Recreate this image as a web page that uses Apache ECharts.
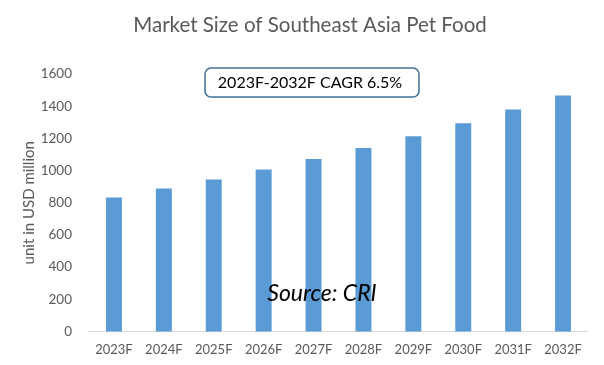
<!DOCTYPE html>
<html><head><meta charset="utf-8">
<script src="https://cdn.jsdelivr.net/npm/echarts@6/dist/echarts.min.js"></script>
<style>html,body{margin:0;padding:0;background:#fff}#c{width:604px;height:365px}</style>
</head><body><div id="c"></div>
<script>
const categories = ['2023F','2024F','2025F','2026F','2027F','2028F','2029F','2030F','2031F','2032F'];
const marketSize = [832, 888, 945, 1006, 1072, 1140, 1213, 1294, 1380, 1467];
const yTicks = {min: 0, max: 1600, interval: 200};
const titleText = 'Market Size of Southeast Asia Pet Food';
const yAxisName = 'unit in USD million';
const cagrText = '2023F-2032F CAGR 6.5%';
const sourceText = 'Source: CRI';

const FONT = 'Lato, "Open Sans", sans-serif';
const chart = echarts.init(document.getElementById('c'), null, {renderer: 'canvas'});
chart.setOption({
  animation: false,
  backgroundColor: '#fff',
  title: {
    text: titleText, left: 305, textAlign: 'center', top: 10,
    textStyle: {fontFamily: FONT, fontSize: 20.5, fontWeight: 'normal', color: '#595959'}
  },
  grid: {left: 89, right: 16, top: 74, bottom: 33.5, containLabel: false},
  xAxis: {
    type: 'category', data: categories,
    axisLine: {lineStyle: {color: '#d9d9d9', width: 1}},
    axisTick: {show: false},
    axisLabel: {fontFamily: FONT, fontSize: 13, color: '#595959', margin: 12}
  },
  yAxis: {
    type: 'value', min: yTicks.min, max: yTicks.max, interval: yTicks.interval,
    name: yAxisName, nameLocation: 'middle', nameGap: 52, nameRotate: 90,
    nameMoveOverlap: false,
    nameTextStyle: {fontFamily: FONT, fontSize: 15, color: '#595959'},
    axisLine: {show: false}, axisTick: {show: false},
    splitLine: {show: false},
    axisLabel: {fontFamily: FONT, fontSize: 13.5, color: '#595959', margin: 17,
      formatter: v => String(v)}
  },
  series: [{
    type: 'bar', data: marketSize, barWidth: '32%',
    itemStyle: {color: '#5b9bd5'}
  }],
  graphic: [
    {type: 'rect', z: 100, shape: {x: 205, y: 68, width: 214, height: 29, r: 6},
     style: {fill: '#fff', stroke: '#41719c', lineWidth: 1.5}},
    {type: 'text', z: 101, x: 310, y: 82.5,
     style: {text: cagrText, font: '16px ' + FONT, fill: '#000', align: 'center', verticalAlign: 'middle'}},
    {type: 'text', z: 101, x: 322, y: 294,
     style: {text: sourceText, font: 'italic 23px ' + FONT, fill: '#000', align: 'center', verticalAlign: 'middle'}}
  ]
});
</script></body></html>
